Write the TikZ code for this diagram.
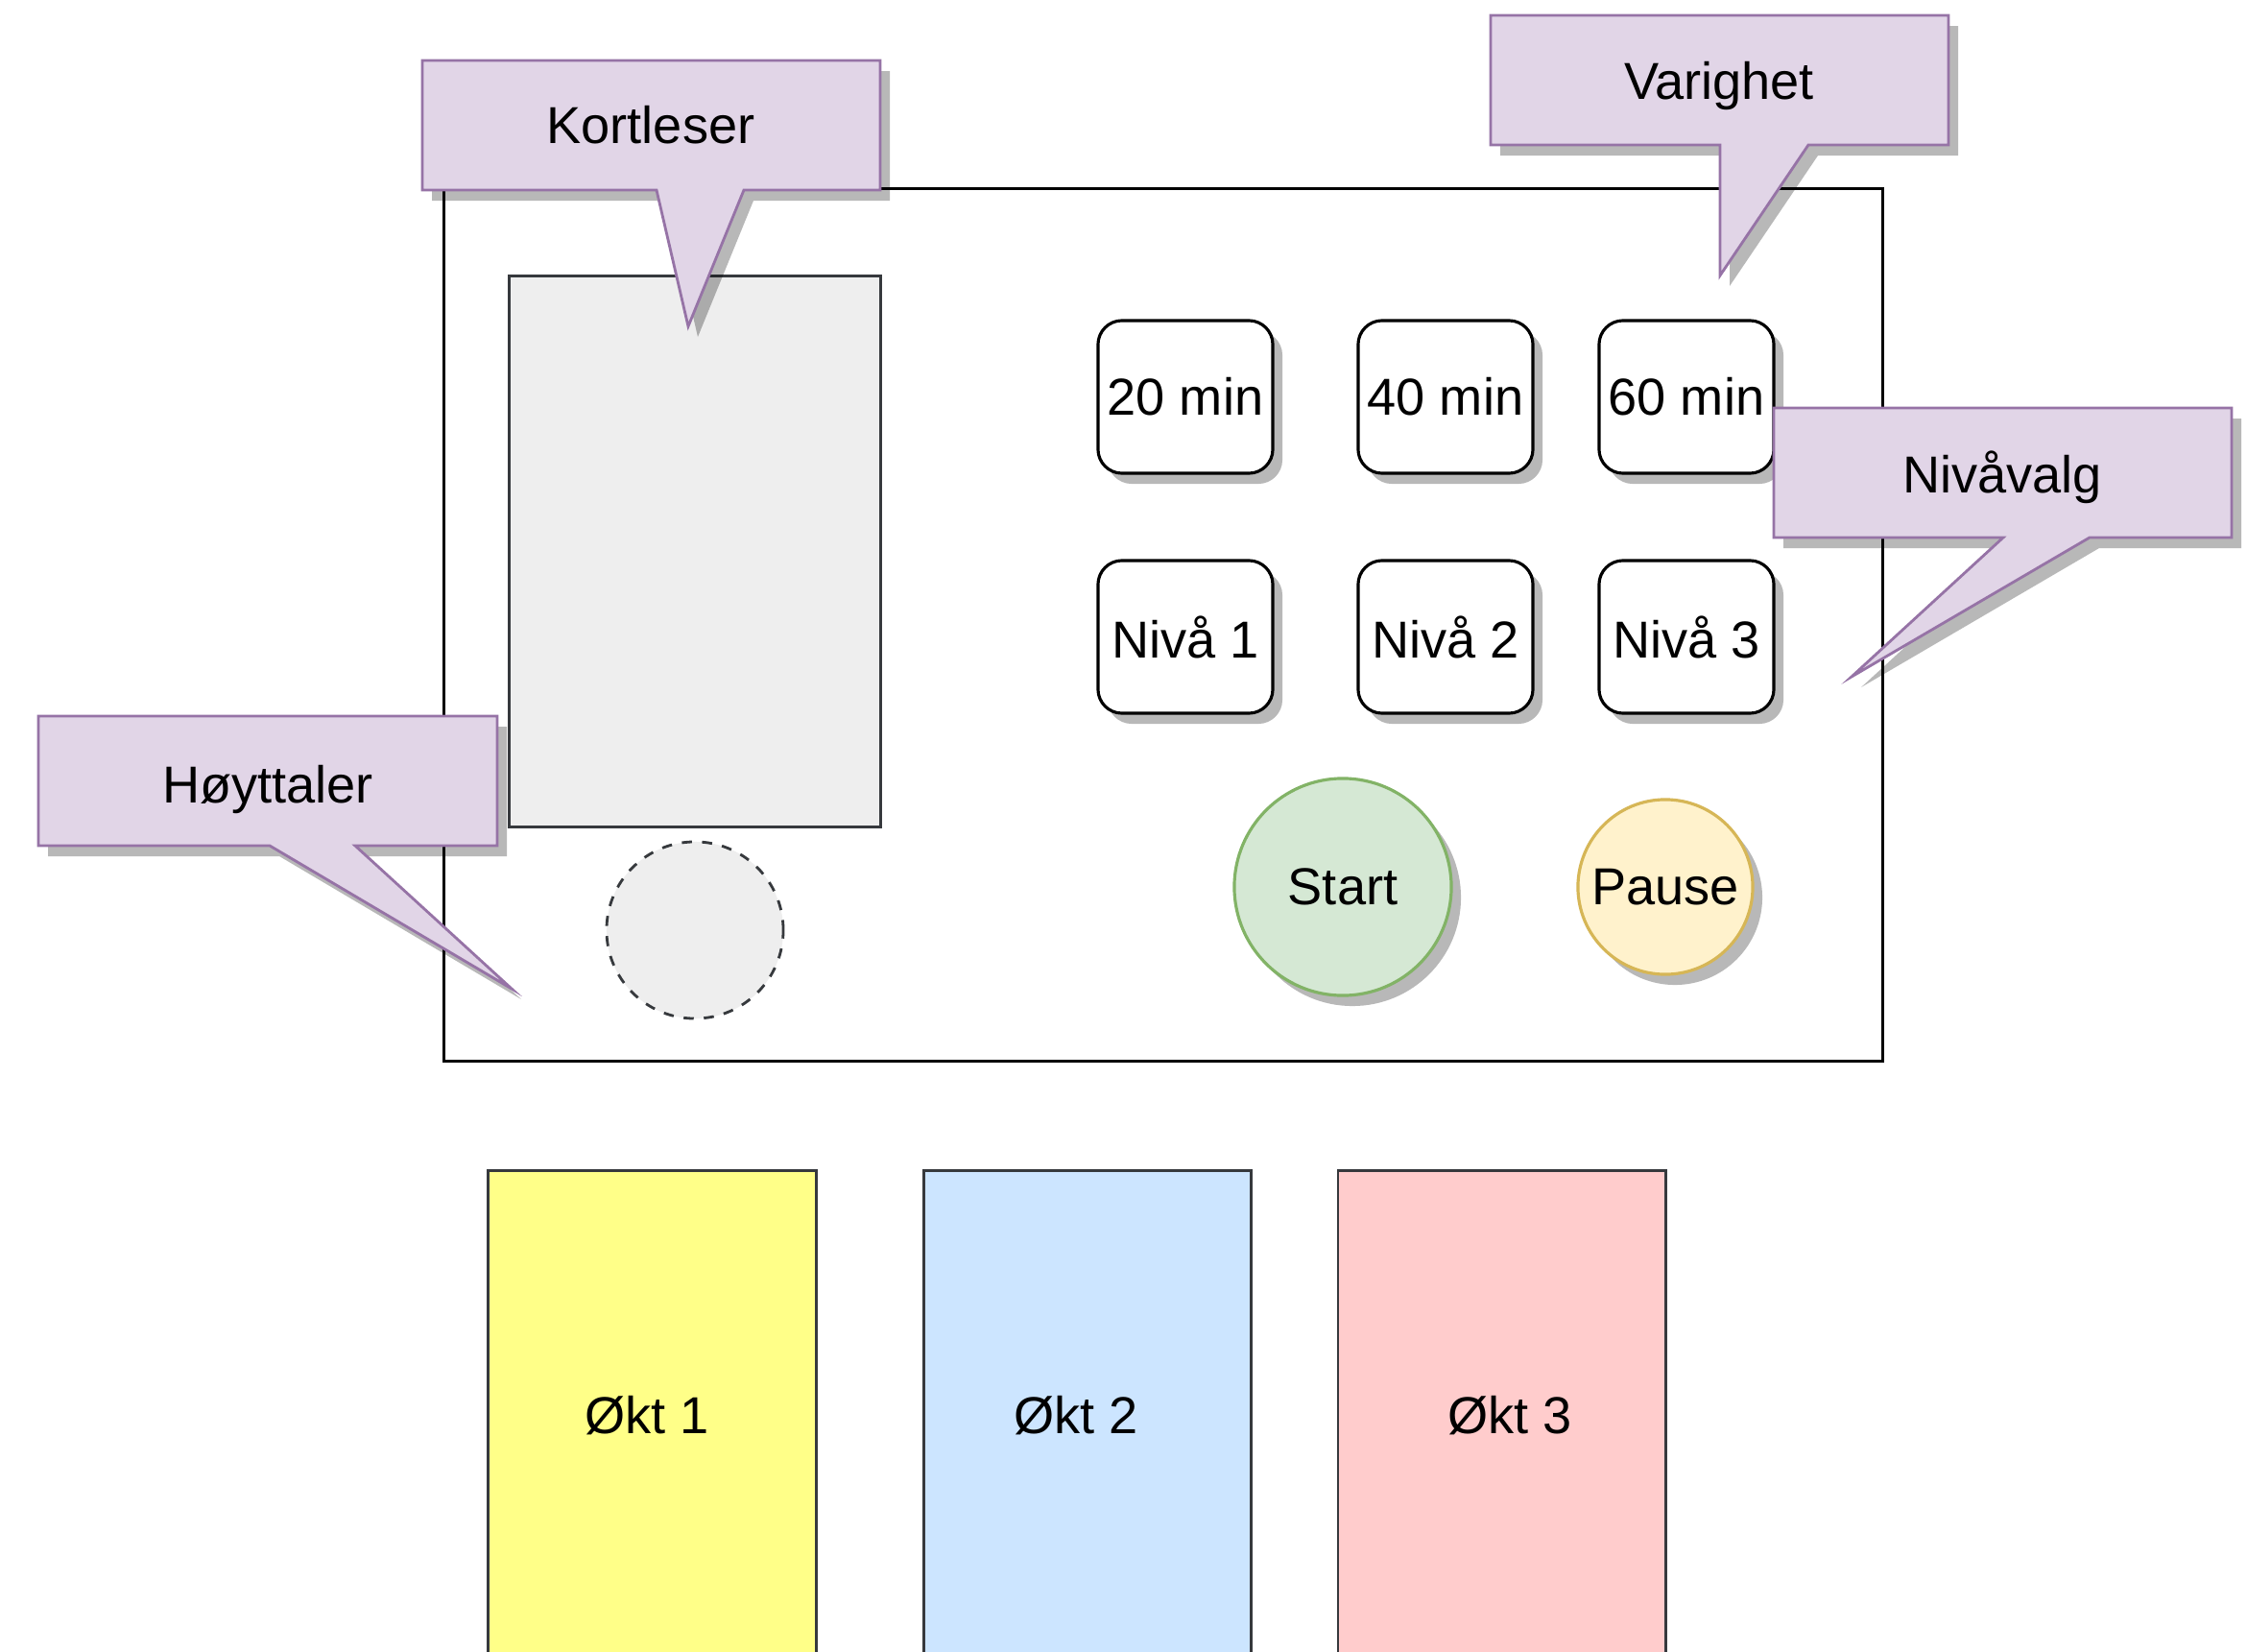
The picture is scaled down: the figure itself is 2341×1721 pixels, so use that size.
\documentclass[tikz,border=0pt]{standalone}
\usepackage{fontspec}
\setmainfont{Liberation Sans}
\usetikzlibrary{shadows}
\definecolor{callfill}{HTML}{E1D5E7}
\definecolor{callline}{HTML}{9673A6}
\definecolor{darkline}{HTML}{36393D}
\definecolor{lightgrey}{HTML}{EEEEEE}
\definecolor{startfill}{HTML}{D5E8D4}
\definecolor{startline}{HTML}{82B366}
\definecolor{pausefill}{HTML}{FFF2CC}
\definecolor{pauseline}{HTML}{D6B656}
\definecolor{cardyellow}{HTML}{FFFF88}
\definecolor{cardblue}{HTML}{CCE5FF}
\definecolor{cardred}{HTML}{FFCCCC}
\begin{document}
\begin{tikzpicture}[x=0.01cm,y=-0.01cm,
  font=\fontsize{15.4pt}{18pt}\selectfont,
  shad/.style={drop shadow={shadow xshift=0.1cm, shadow yshift=-0.11cm, opacity=0.28, fill=black}},
  callout/.style={fill=callfill, draw=callline, line width=0.8pt, shad},
  btn/.style={draw=black, fill=white, rounded corners=0.25cm, minimum width=1.82cm, minimum height=1.59cm, line width=0.9pt, shad, inner sep=0pt},
  card/.style={draw=darkline, line width=0.8pt, minimum width=3.41cm, minimum height=5.3cm, inner sep=0pt},
  lbl/.style={inner sep=0pt}]
\clip (0,0) rectangle (2341,1721);
\fill[white] (0,0) rectangle (2341,1721);
% panel
\node[draw=black, line width=0.9pt, minimum width=14.98cm, minimum height=9.08cm, inner sep=0pt] (panel) at (1212,651) {};
% card reader slot
\node[draw=darkline, fill=lightgrey, line width=0.8pt, minimum width=3.86cm, minimum height=5.73cm, inner sep=0pt] (reader) at (724,574.5) {};
% speaker
\node[draw=darkline, fill=lightgrey, dashed, line width=0.8pt, circle, minimum size=1.84cm, inner sep=0pt] (speaker) at (724,969) {};
% duration buttons
\node[btn] (b20) at (1235,413.5) {20 min};
\node[btn] (b40) at (1506,413.5) {40 min};
\node[btn] (b60) at (1757,413.5) {60 min};
% level buttons
\node[btn] (n1) at (1235,663.5) {Nivå 1};
\node[btn] (n2) at (1506,663.5) {Nivå 2};
\node[btn] (n3) at (1757,663.5) {Nivå 3};
% start / pause
\node[circle, draw=startline, fill=startfill, line width=0.9pt, minimum size=2.26cm, inner sep=0pt, shad] (start) at (1399,924) {Start};
\node[circle, draw=pauseline, fill=pausefill, line width=0.9pt, minimum size=1.82cm, inner sep=0pt, shad] (pause) at (1735,924) {Pause};
% session cards
\node[card, fill=cardyellow] (okt1) at (679.5,1485) {};
\node[card, fill=cardblue] (okt2) at (1133,1485) {};
\node[card, fill=cardred] (okt3) at (1564.5,1485) {};
\node[lbl] (okt1t) at (674,1475) {Økt 1};
\node[lbl] (okt2t) at (1121,1475) {Økt 2};
\node[lbl] (okt3t) at (1573,1475) {Økt 3};
% callouts
\path[callout] (440,63) -- (917,63) -- (917,198) -- (775,198) -- (717,340) -- (684,198) -- (440,198) -- cycle;
\node[lbl] (kortleser) at (678,130) {Kortleser};
\path[callout] (1553,16) -- (2030,16) -- (2030,151) -- (1884,151) -- (1792,287) -- (1792,151) -- (1553,151) -- cycle;
\node[lbl] (varighet) at (1791,89) {Varighet};
\path[callout] (1848,425) -- (2325,425) -- (2325,560) -- (2177,560) -- (1929,705) -- (2087,560) -- (1848,560) -- cycle;
\node[lbl] (nivavalg) at (2086,497) {Nivåvalg};
\path[callout] (40,746) -- (518,746) -- (518,881) -- (370,881) -- (533,1030) -- (281,881) -- (40,881) -- cycle;
\node[lbl] (hoyttaler) at (279,822) {Høyttaler};
\end{tikzpicture}
\end{document}
